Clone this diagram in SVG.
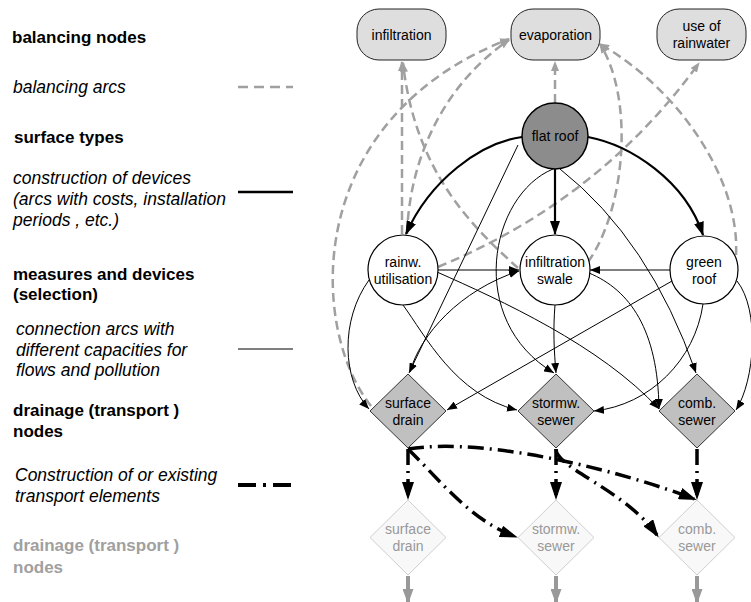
<svg xmlns="http://www.w3.org/2000/svg" width="751" height="602" viewBox="0 0 751 602">
<style>
text{font-family:"Liberation Sans",Arial,sans-serif;fill:#000}
.t{font-size:14px;text-anchor:middle}
.tl{font-size:14px;text-anchor:middle;fill:#999}
.lb{font-size:17px;font-weight:bold}
.li{font-size:17.5px;font-style:italic}
.lg{font-size:17px;font-weight:bold;fill:#a0a0a0}
.bal{fill:#dedede;stroke:#222;stroke-width:1}
.circ{fill:#fff;stroke:#000;stroke-width:1.2}
.dia{fill:#c0c0c0;stroke:#333;stroke-width:1}
.dial{fill:#f8f8f8;stroke:#cfcfcf;stroke-width:1}
.c1{fill:none;stroke:#000;stroke-width:1;marker-end:url(#aThin)}
.c2{fill:none;stroke:#000;stroke-width:2.2;marker-end:url(#aThick)}
.ba{fill:none;stroke:#a0a0a0;stroke-width:2.5;stroke-dasharray:9 5;marker-end:url(#aGray)}
.tr{fill:none;stroke:#000;stroke-width:3.5;stroke-dasharray:16 6 2 6;marker-end:url(#aBig)}
.out{fill:none;stroke:#999;stroke-width:4;marker-end:url(#aGrayBig)}
</style>
<defs>
<marker id="aThin" markerUnits="userSpaceOnUse" markerWidth="10" markerHeight="8" refX="10" refY="4" orient="auto"><path d="M0,0 L10,4 L0,8 z" fill="#000"/></marker>
<marker id="aThick" markerUnits="userSpaceOnUse" markerWidth="14" markerHeight="10" refX="13" refY="5" orient="auto"><path d="M0,0 L14,5 L0,10 z" fill="#000"/></marker>
<marker id="aGray" markerUnits="userSpaceOnUse" markerWidth="10" markerHeight="8" refX="9" refY="4" orient="auto"><path d="M0,0 L10,4 L0,8 z" fill="#a0a0a0"/></marker>
<marker id="aBig" markerUnits="userSpaceOnUse" markerWidth="18" markerHeight="12" refX="15" refY="6" orient="auto"><path d="M0,0 L18,6 L0,12 z" fill="#000"/></marker>
<marker id="aGrayBig" markerUnits="userSpaceOnUse" markerWidth="15" markerHeight="11" refX="13" refY="5.5" orient="auto"><path d="M0,0 L15,5.5 L0,11 z" fill="#999"/></marker>
</defs>

<g id="legend">
<text class="lb" x="12" y="43">balancing nodes</text>
<text class="li" x="13" y="93">balancing arcs</text>
<line x1="238" y1="87" x2="293" y2="87" stroke="#a0a0a0" stroke-width="2.5" stroke-dasharray="10 6"/>
<text class="lb" x="14" y="143">surface types</text>
<text class="li" x="13" y="184">construction of devices</text>
<text class="li" x="13" y="205">(arcs with costs, installation</text>
<text class="li" x="13" y="226">periods , etc.)</text>
<line x1="238" y1="192" x2="293" y2="192" stroke="#000" stroke-width="2.5"/>
<text class="lb" x="13" y="280">measures and devices</text>
<text class="lb" x="13" y="300">(selection)</text>
<text class="li" x="16" y="335">connection arcs with</text>
<text class="li" x="16" y="355.5">different capacities for</text>
<text class="li" x="16" y="376">flows and pollution</text>
<line x1="238" y1="349" x2="293" y2="349" stroke="#000" stroke-width="1.2"/>
<text class="lb" x="13" y="416">drainage (transport )</text>
<text class="lb" x="13" y="437">nodes</text>
<text class="li" x="15" y="481">Construction of or existing</text>
<text class="li" x="15" y="502">transport elements</text>
<line x1="238" y1="485" x2="293" y2="485" stroke="#000" stroke-width="4" stroke-dasharray="18 7 3 7"/>
<text class="lg" x="13" y="551">drainage (transport )</text>
<text class="lg" x="13" y="573">nodes</text>
</g>

<g id="connectors">
<!-- balancing arcs -->
<path class="ba" d="M555,103 L555,62"/>
<path class="ba" d="M402,234 L402,62"/>
<path class="ba" d="M518,268 C470,225 415,170 403,63"/>
<path class="ba" d="M371,406 C310,330 300,120 509,39"/>
<path class="ba" d="M407,234 C410,150 450,80 509,40"/>
<path class="ba" d="M438,267 Q600,200 699,63"/>
<path class="ba" d="M588,262 C625,210 635,100 600,44"/>
<path class="ba" d="M736,255 C740,180 680,90 600,44"/>
<!-- construction arcs -->
<path class="c2" d="M522,137 C480,143 430,180 406,234"/>
<path class="c2" d="M555,169 L555,234"/>
<path class="c2" d="M588,137 C630,145 685,180 703,235"/>
<!-- connection arcs -->
<path class="c1" d="M518,145 L409,373"/>
<path class="c1" d="M553,169 C490,195 465,320 554,373"/>
<path class="c1" d="M560,169 Q650,240 696,373"/>
<path class="c1" d="M438,270 L519,270"/>
<path class="c1" d="M437,272 C500,300 600,345 659,409"/>
<path class="c1" d="M403,305 C425,335 455,395 517,410"/>
<path class="c1" d="M369,280 C340,320 342,380 369,409"/>
<path class="c1" d="M555,305 C553,330 554,350 556,373"/>
<path class="c1" d="M410,372 C420,335 460,290 519,271"/>
<path class="c1" d="M589,273 C630,290 658,330 659,409"/>
<path class="c1" d="M670,270 L590,270"/>
<path class="c1" d="M672,281 L447,410"/>
<path class="c1" d="M703,304 C695,360 650,405 594,411"/>
<path class="c1" d="M737,281 C760,310 755,380 736,410"/>
<!-- transport elements -->
<path class="tr" d="M408,449 L408,497"/>
<path class="tr" d="M556,449 L556,497"/>
<path class="tr" d="M697,449 L697,497"/>
<path class="tr" d="M408,449 C440,480 470,520 515,536.5"/>
<path class="tr" d="M556,449 C556,468 625,490 657,535"/>
<path class="tr" d="M408,449 C490,436 630,474 694,499"/>
<!-- outflows -->
<path class="out" d="M408,576 L408,602"/>
<path class="out" d="M556,576 L556,602"/>
<path class="out" d="M697,576 L697,602"/>
</g>

<g id="n-infiltration"><rect class="bal" x="357" y="9" width="89" height="51" rx="22"/><text class="t" x="401.5" y="39.5">infiltration</text></g>
<g id="n-evaporation"><rect class="bal" x="511" y="9" width="89" height="51" rx="22"/><text class="t" x="555.5" y="39.5">evaporation</text></g>
<g id="n-use"><rect class="bal" x="657" y="9" width="89" height="51" rx="22"/><text class="t" x="701.5" y="31">use of</text><text class="t" x="701.5" y="48">rainwater</text></g>

<g id="n-flatroof"><circle cx="555" cy="136" r="33" fill="#8c8c8c" stroke="#000" stroke-width="1.5"/><text class="t" x="555" y="141">flat roof</text></g>

<g id="n-rainw"><circle class="circ" cx="403" cy="270" r="35"/><text class="t" x="403" y="267">rainw.</text><text class="t" x="403" y="284">utilisation</text></g>
<g id="n-swale"><circle class="circ" cx="555" cy="270" r="35"/><text class="t" x="555" y="267">infiltration</text><text class="t" x="555" y="284">swale</text></g>
<g id="n-greenroof"><circle class="circ" cx="704" cy="270" r="34"/><text class="t" x="704" y="267">green</text><text class="t" x="704" y="284">roof</text></g>

<g id="n-surfacedrain"><path class="dia" d="M408,374 L446,411 L408,448 L370,411 Z"/><text class="t" x="408" y="407.5">surface</text><text class="t" x="408" y="424.5">drain</text></g>
<g id="n-stormw"><path class="dia" d="M556,374 L594,411 L556,448 L518,411 Z"/><text class="t" x="556" y="407.5">stormw.</text><text class="t" x="556" y="424.5">sewer</text></g>
<g id="n-comb"><path class="dia" d="M697,374 L735,411 L697,448 L659,411 Z"/><text class="t" x="697" y="407.5">comb.</text><text class="t" x="697" y="424.5">sewer</text></g>

<g id="n-surfacedrain2"><path class="dial" d="M408,500 L446,537.5 L408,575 L370,537.5 Z"/><text class="tl" x="408" y="533.5">surface</text><text class="tl" x="408" y="551">drain</text></g>
<g id="n-stormw2"><path class="dial" d="M556,500 L594,537.5 L556,575 L518,537.5 Z"/><text class="tl" x="556" y="533.5">stormw.</text><text class="tl" x="556" y="551">sewer</text></g>
<g id="n-comb2"><path class="dial" d="M697,500 L735,537.5 L697,575 L659,537.5 Z"/><text class="tl" x="697" y="533.5">comb.</text><text class="tl" x="697" y="551">sewer</text></g>
</svg>
